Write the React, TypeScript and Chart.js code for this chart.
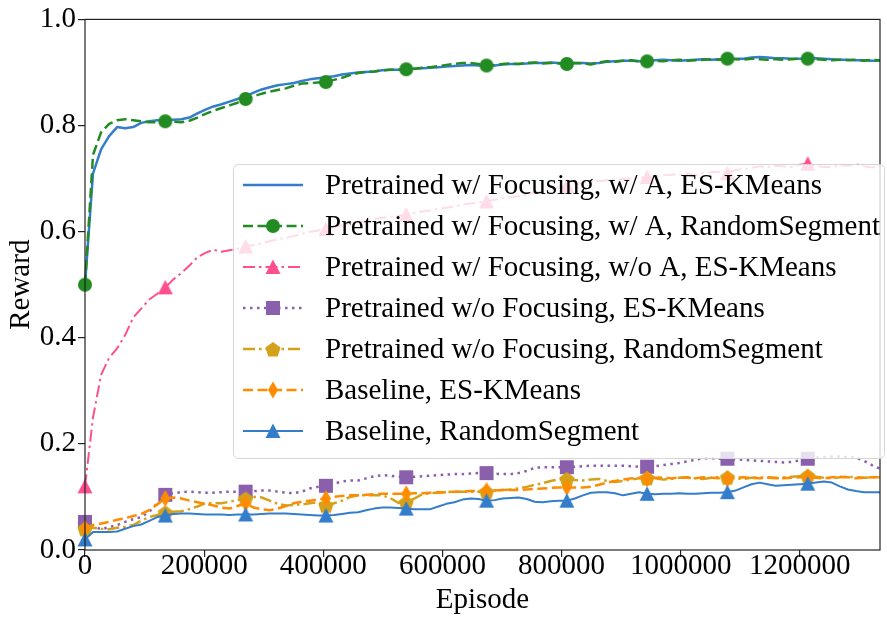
import React, { useEffect, useRef } from 'react';
import { Chart, registerables } from 'chart.js';

Chart.register(...registerables);

// ---------------- data ----------------
const EPISODE_STEP = 13480;
const N_POINTS = 100;
const EPISODES: number[] = Array.from({ length: N_POINTS }, (_, i) => i * EPISODE_STEP);
const X_MAX = 1334520;
const X_TICKS = [0, 200000, 400000, 600000, 800000, 1000000, 1200000];
const Y_TICKS = [0, 0.2, 0.4, 0.6, 0.8, 1.0];
const MARK_EVERY = 10;

const SERIES_LABELS = [
  'Pretrained w/ Focusing, w/ A, ES-KMeans',
  'Pretrained w/ Focusing, w/ A, RandomSegment',
  'Pretrained w/ Focusing, w/o A, ES-KMeans',
  'Pretrained w/o Focusing, ES-KMeans',
  'Pretrained w/o Focusing, RandomSegment',
  'Baseline, ES-KMeans',
  'Baseline, RandomSegment',
];

const PT_FOCUS_A_ESK = [
  0.50, 0.71, 0.755, 0.78, 0.797, 0.795, 0.797, 0.805, 0.808, 0.81,
  0.81, 0.811, 0.812, 0.815, 0.823, 0.83, 0.836, 0.84, 0.845, 0.85,
  0.855, 0.862, 0.868, 0.872, 0.876, 0.878, 0.88, 0.884, 0.887, 0.889,
  0.891, 0.893, 0.896, 0.898, 0.90, 0.901, 0.902, 0.904, 0.905, 0.905,
  0.906, 0.907, 0.908, 0.909, 0.91, 0.911, 0.912, 0.913, 0.914, 0.913,
  0.912, 0.913, 0.915, 0.916, 0.916, 0.917, 0.918, 0.918, 0.919, 0.918,
  0.917, 0.918, 0.918, 0.917, 0.918, 0.92, 0.921, 0.922, 0.922, 0.921,
  0.921, 0.923, 0.924, 0.923, 0.922, 0.923, 0.924, 0.925, 0.924, 0.925,
  0.925, 0.926, 0.926, 0.928, 0.929, 0.928, 0.927, 0.927, 0.926, 0.926,
  0.926, 0.927, 0.926, 0.925, 0.924, 0.924, 0.923, 0.923, 0.922, 0.922,
];

const PT_FOCUS_A_RANDSEG = [
  0.50, 0.745, 0.787, 0.803, 0.81, 0.812, 0.81, 0.808, 0.806, 0.806,
  0.808, 0.807, 0.806, 0.809, 0.815, 0.822, 0.828, 0.833, 0.838, 0.843,
  0.85, 0.855, 0.86, 0.864, 0.867, 0.87, 0.875, 0.879, 0.88, 0.881,
  0.882, 0.886, 0.89, 0.895, 0.899, 0.901, 0.902, 0.904, 0.905, 0.905,
  0.906, 0.907, 0.909, 0.91, 0.912, 0.914, 0.916, 0.918, 0.918, 0.916,
  0.913, 0.914, 0.916, 0.917, 0.916, 0.918, 0.919, 0.917, 0.918, 0.917,
  0.916, 0.918, 0.917, 0.915, 0.919, 0.921, 0.92, 0.922, 0.923, 0.921,
  0.921, 0.922, 0.921, 0.923, 0.924, 0.922, 0.923, 0.924, 0.925, 0.924,
  0.926, 0.925, 0.924, 0.926, 0.925, 0.924, 0.925, 0.924, 0.925, 0.926,
  0.926, 0.925, 0.924, 0.923, 0.924, 0.923, 0.924, 0.922, 0.924, 0.923,
];

const PT_FOCUS_NOA_ESK = [
  0.12, 0.25, 0.33, 0.362, 0.38, 0.405, 0.438, 0.455, 0.472, 0.483,
  0.495, 0.51, 0.522, 0.536, 0.552, 0.56, 0.566, 0.562, 0.565, 0.568,
  0.572, 0.575, 0.578, 0.582, 0.586, 0.588, 0.592, 0.596, 0.60, 0.602,
  0.605, 0.608, 0.612, 0.615, 0.618, 0.62, 0.623, 0.626, 0.628, 0.63,
  0.632, 0.635, 0.638, 0.64, 0.643, 0.645, 0.648, 0.651, 0.653, 0.655,
  0.657, 0.66, 0.663, 0.665, 0.667, 0.67, 0.673, 0.676, 0.679, 0.683,
  0.686, 0.689, 0.692, 0.695, 0.695, 0.697, 0.698, 0.699, 0.70, 0.701,
  0.703, 0.704, 0.706, 0.707, 0.708, 0.709, 0.706, 0.711, 0.712, 0.713,
  0.71, 0.716, 0.718, 0.72, 0.723, 0.722, 0.724, 0.723, 0.722, 0.726,
  0.728, 0.724, 0.722, 0.722, 0.725, 0.724, 0.727, 0.723, 0.721, 0.724,
];

const PT_NOFOCUS_ESK = [
  0.053, 0.045, 0.039, 0.043, 0.047, 0.053, 0.058, 0.062, 0.072, 0.088,
  0.104, 0.107, 0.109, 0.11, 0.109, 0.108, 0.108, 0.109, 0.11, 0.11,
  0.11, 0.111, 0.112, 0.112, 0.11, 0.108, 0.107, 0.11, 0.116, 0.119,
  0.121, 0.125, 0.129, 0.131, 0.131, 0.135, 0.139, 0.141, 0.14, 0.138,
  0.137, 0.138, 0.139, 0.14, 0.141, 0.142, 0.143, 0.143, 0.144, 0.145,
  0.145, 0.144, 0.143, 0.143, 0.145, 0.149, 0.155, 0.156, 0.156, 0.156,
  0.156, 0.157, 0.158, 0.159, 0.159, 0.159, 0.159, 0.159, 0.158, 0.157,
  0.157, 0.158, 0.16, 0.162, 0.164, 0.167, 0.17, 0.173, 0.173, 0.172,
  0.172, 0.171, 0.17, 0.169, 0.168, 0.167, 0.166, 0.165, 0.166, 0.169,
  0.172, 0.174, 0.175, 0.176, 0.176, 0.175, 0.174, 0.168, 0.16, 0.153,
];

const PT_NOFOCUS_RANDSEG = [
  0.04, 0.042, 0.04, 0.039, 0.042, 0.044, 0.047, 0.055, 0.062, 0.066,
  0.071, 0.072, 0.073, 0.077, 0.082, 0.088, 0.088, 0.088, 0.091, 0.094,
  0.097, 0.10, 0.099, 0.093, 0.087, 0.084, 0.085, 0.086, 0.088, 0.09,
  0.084, 0.088, 0.093, 0.10, 0.103, 0.103, 0.103, 0.103, 0.098, 0.089,
  0.09, 0.097, 0.105, 0.107, 0.108, 0.109, 0.11, 0.11, 0.11, 0.11,
  0.11, 0.112, 0.113, 0.114, 0.116, 0.119, 0.123, 0.126, 0.13, 0.133,
  0.134, 0.132, 0.131, 0.133, 0.134, 0.13, 0.128, 0.13, 0.133, 0.135,
  0.136, 0.135, 0.133, 0.134, 0.136, 0.137, 0.135, 0.134, 0.136, 0.138,
  0.137, 0.135, 0.134, 0.136, 0.137, 0.136, 0.135, 0.137, 0.138, 0.139,
  0.14, 0.138, 0.136, 0.135, 0.137, 0.138, 0.137, 0.136, 0.137, 0.137,
];

const BASE_ESK = [
  0.041, 0.047, 0.05, 0.053, 0.057, 0.06, 0.064, 0.068, 0.075, 0.086,
  0.097, 0.099, 0.097, 0.093, 0.09, 0.087, 0.084, 0.08, 0.078, 0.083,
  0.088, 0.08, 0.077, 0.075, 0.078, 0.083, 0.088, 0.091, 0.093, 0.095,
  0.097, 0.10, 0.102, 0.103, 0.103, 0.104, 0.105, 0.106, 0.106, 0.106,
  0.106, 0.107, 0.107, 0.108, 0.109, 0.109, 0.11, 0.11, 0.111, 0.111,
  0.112, 0.112, 0.113, 0.113, 0.113, 0.114, 0.115, 0.116, 0.117, 0.118,
  0.118, 0.118, 0.118, 0.119, 0.123, 0.127, 0.13, 0.133, 0.135, 0.136,
  0.134, 0.136, 0.137, 0.135, 0.137, 0.136, 0.135, 0.137, 0.136, 0.135,
  0.134, 0.136, 0.137, 0.136, 0.135, 0.137, 0.136, 0.135, 0.136, 0.137,
  0.137, 0.136, 0.135, 0.137, 0.138, 0.137, 0.135, 0.136, 0.137, 0.137,
];

const BASE_RANDSEG = [
  0.02, 0.034, 0.034, 0.034, 0.035, 0.04, 0.045, 0.048, 0.055, 0.062,
  0.065, 0.068, 0.069, 0.069, 0.068, 0.067, 0.067, 0.067, 0.066, 0.067,
  0.067, 0.067, 0.068, 0.069, 0.069, 0.069, 0.068, 0.067, 0.066, 0.065,
  0.065, 0.066, 0.068, 0.07, 0.071, 0.075, 0.078, 0.08, 0.08, 0.079,
  0.078, 0.077, 0.077, 0.077, 0.082, 0.087, 0.09, 0.095, 0.097, 0.096,
  0.093, 0.094, 0.097, 0.098, 0.099, 0.096, 0.091, 0.09, 0.092, 0.093,
  0.093, 0.097, 0.103, 0.108, 0.109, 0.109, 0.107, 0.103, 0.106, 0.109,
  0.106, 0.105, 0.106, 0.106, 0.107, 0.106, 0.106, 0.107, 0.108, 0.108,
  0.109, 0.112, 0.118, 0.124, 0.127, 0.124, 0.121, 0.122, 0.123, 0.124,
  0.125, 0.127, 0.129, 0.127, 0.12, 0.114, 0.111, 0.109, 0.109, 0.109,
];

const SERIES_VALUES = [
  PT_FOCUS_A_ESK,
  PT_FOCUS_A_RANDSEG,
  PT_FOCUS_NOA_ESK,
  PT_NOFOCUS_ESK,
  PT_NOFOCUS_RANDSEG,
  BASE_ESK,
  BASE_RANDSEG,
];

// ---------------- styles ----------------
const FONT_FAMILY = '"Liberation Serif", "Times New Roman", serif';
const FONT_SIZE = 29;

type MarkerKind = 'none' | 'circle' | 'triangle' | 'square' | 'pentagon' | 'thinDiamond';

const STYLES: { color: string; width: number; dash: number[]; marker: MarkerKind }[] = [
  { color: '#347dcb', width: 2.5, dash: [], marker: 'none' },
  { color: '#228b22', width: 2.5, dash: [10, 4.5], marker: 'circle' },
  { color: '#ff4f8f', width: 2, dash: [12, 4, 2.5, 4], marker: 'triangle' },
  { color: '#8a5fac', width: 2.5, dash: [2.5, 4.5], marker: 'square' },
  { color: '#d4a21a', width: 2.5, dash: [12, 4, 2.5, 4], marker: 'pentagon' },
  { color: '#ff8c00', width: 2.5, dash: [10, 4.5], marker: 'thinDiamond' },
  { color: '#347dcb', width: 2, dash: [], marker: 'triangle' },
];

function makeMarker(kind: MarkerKind, color: string): HTMLCanvasElement {
  const c = document.createElement('canvas');
  c.width = 20;
  c.height = 20;
  const g = c.getContext('2d')!;
  g.fillStyle = color;
  const cx = 10;
  const cy = 10;
  g.beginPath();
  if (kind === 'circle') {
    g.arc(cx, cy, 7, 0, Math.PI * 2);
  } else if (kind === 'square') {
    g.rect(cx - 7, cy - 7, 14, 14);
  } else if (kind === 'triangle') {
    g.moveTo(cx, cy - 7.5);
    g.lineTo(cx + 7.5, cy + 7);
    g.lineTo(cx - 7.5, cy + 7);
  } else if (kind === 'pentagon') {
    for (let k = 0; k < 5; k++) {
      const a = -Math.PI / 2 + (k * 2 * Math.PI) / 5;
      const px = cx + 8 * Math.cos(a);
      const py = cy + 1 + 8 * Math.sin(a);
      if (k === 0) g.moveTo(px, py);
      else g.lineTo(px, py);
    }
  } else if (kind === 'thinDiamond') {
    g.moveTo(cx, cy - 8.5);
    g.lineTo(cx + 5, cy);
    g.lineTo(cx, cy + 8.5);
    g.lineTo(cx - 5, cy);
  }
  g.closePath();
  g.fill();
  return c;
}

export default function App() {
  const canvasRef = useRef<HTMLCanvasElement | null>(null);

  useEffect(() => {
    document.body.style.margin = '0';
    const canvas = canvasRef.current;
    if (!canvas) return;

    const markers = STYLES.map((s) => (s.marker === 'none' ? null : makeMarker(s.marker, s.color)));

    const datasets = SERIES_VALUES.map((vals, i) => {
      const st = STYLES[i];
      return {
        label: SERIES_LABELS[i],
        data: EPISODES.map((x, j) => ({ x, y: vals[j] })),
        borderColor: st.color,
        backgroundColor: st.color,
        borderWidth: st.width,
        borderDash: st.dash,
        borderCapStyle: 'butt' as const,
        borderJoinStyle: 'round' as const,
        fill: false,
        tension: 0,
        clip: false as const,
        order: -i,
        pointStyle: markers[i] || 'circle',
        pointRadius: (ctx: any) => (markers[i] && ctx.dataIndex % MARK_EVERY === 0 ? 7 : 0),
        pointHoverRadius: 0,
        pointBorderWidth: 0,
      };
    });

    const frameAndLegend = {
      id: 'frameAndLegend',
      afterDatasetsDraw(chart: any) {
        const ctx: CanvasRenderingContext2D = chart.ctx;
        const a = chart.chartArea;
        ctx.save();
        ctx.setLineDash([]);
        ctx.strokeStyle = '#222';
        ctx.lineWidth = 1.2;
        ctx.strokeRect(a.left, a.top, a.right - a.left, a.bottom - a.top);

        // legend box
        const bx = 233.5;
        const by = 164.5;
        const bw = 651;
        const bh = 294;
        const r = 5;
        ctx.beginPath();
        ctx.moveTo(bx + r, by);
        ctx.lineTo(bx + bw - r, by);
        ctx.arcTo(bx + bw, by, bx + bw, by + r, r);
        ctx.lineTo(bx + bw, by + bh - r);
        ctx.arcTo(bx + bw, by + bh, bx + bw - r, by + bh, r);
        ctx.lineTo(bx + r, by + bh);
        ctx.arcTo(bx, by + bh, bx, by + bh - r, r);
        ctx.lineTo(bx, by + r);
        ctx.arcTo(bx, by, bx + r, by, r);
        ctx.closePath();
        ctx.fillStyle = 'rgba(255,255,255,0.8)';
        ctx.fill();
        ctx.strokeStyle = '#d6d6d6';
        ctx.lineWidth = 1;
        ctx.stroke();

        const rowY0 = 185;
        const rowH = 41;
        ctx.font = `${FONT_SIZE}px ${FONT_FAMILY}`;
        ctx.textBaseline = 'middle';
        ctx.textAlign = 'left';
        SERIES_LABELS.forEach((label, i) => {
          const st = STYLES[i];
          const y = rowY0 + i * rowH;
          ctx.beginPath();
          ctx.setLineDash(st.dash);
          ctx.lineCap = 'butt';
          ctx.strokeStyle = st.color;
          ctx.lineWidth = st.width;
          ctx.moveTo(243, y);
          ctx.lineTo(303, y);
          ctx.stroke();
          ctx.setLineDash([]);
          const m = markers[i];
          if (m) ctx.drawImage(m, 273 - m.width / 2, y - m.height / 2);
          ctx.fillStyle = '#000';
          ctx.fillText(label, 325, y + 1);
        });
        ctx.restore();
      },
    };

    const chart = new Chart(canvas, {
      type: 'line',
      data: { datasets },
      options: {
        animation: false,
        responsive: false,
        events: [],
        layout: { padding: { top: 15, right: 1, left: 0, bottom: 0 } },
        plugins: {
          legend: { display: false },
          tooltip: { enabled: false },
        },
        scales: {
          x: {
            type: 'linear',
            min: 0,
            max: X_MAX,
            afterBuildTicks: (scale: any) => {
              scale.ticks = X_TICKS.map((value) => ({ value }));
            },
            afterFit: (scale: any) => {
              scale.height = 71;
            },
            grid: {
              drawOnChartArea: false,
              drawTicks: true,
              tickLength: 7,
              color: '#222',
              lineWidth: 1.2,
            },
            border: { display: false },
            ticks: {
              autoSkip: false,
              maxRotation: 0,
              padding: -8,
              color: '#000',
              font: { family: FONT_FAMILY, size: FONT_SIZE },
              callback: (v: any) => String(v),
            },
            title: {
              display: true,
              text: 'Episode',
              color: '#000',
              font: { family: FONT_FAMILY, size: FONT_SIZE },
              padding: { top: 0, bottom: 3 },
            },
          },
          y: {
            type: 'linear',
            min: 0,
            max: 1,
            afterBuildTicks: (scale: any) => {
              scale.ticks = Y_TICKS.map((value) => ({ value }));
            },
            afterFit: (scale: any) => {
              scale.width = 85;
            },
            grid: {
              drawOnChartArea: false,
              drawTicks: true,
              tickLength: 7,
              color: '#222',
              lineWidth: 1.2,
            },
            border: { display: false },
            ticks: {
              padding: 2,
              color: '#000',
              font: { family: FONT_FAMILY, size: FONT_SIZE },
              callback: (v: any) => Number(v).toFixed(1),
            },
            title: {
              display: true,
              text: 'Reward',
              color: '#000',
              font: { family: FONT_FAMILY, size: FONT_SIZE },
              padding: { top: 4, bottom: 0 },
            },
          },
        },
      },
      plugins: [frameAndLegend],
    } as any);

    return () => chart.destroy();
  }, []);

  return (
    <div style={{ width: 887, height: 621 }}>
      <canvas ref={canvasRef} width={887} height={621} style={{ display: 'block' }} />
    </div>
  );
}
